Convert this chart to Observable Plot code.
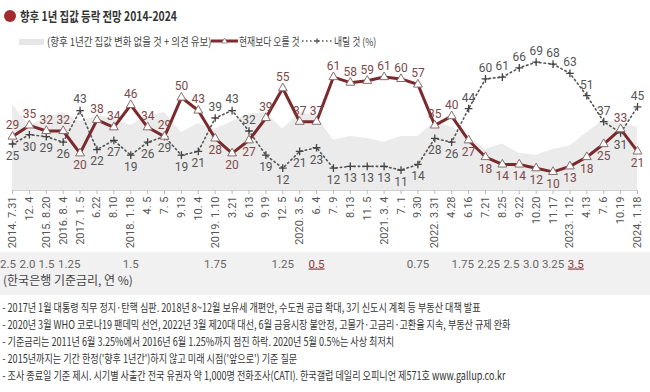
<!DOCTYPE html>
<html><head><meta charset="utf-8">
<script src="https://cdn.jsdelivr.net/npm/d3@7"></script>
<script src="https://cdn.jsdelivr.net/npm/@observablehq/plot@0.6"></script>
<style>
body{margin:0;background:#fff;font-family:"Noto Sans CJK KR","Noto Sans",sans-serif;width:650px;height:392px;overflow:hidden;color:#333;}
#title{height:28px;position:relative;}
#title .bullet{position:absolute;left:4px;top:10px;width:12px;height:12px;border-radius:50%;background:#a32a2e;}
#title .t{position:absolute;left:20px;top:6px;font-size:13px;font-weight:600;color:#333;line-height:20px;white-space:nowrap;transform:scaleX(0.8);transform-origin:left center;}
#legend{height:22px;position:relative;font-size:11px;color:#444;}
#legend .it{position:absolute;top:5px;line-height:16px;white-space:nowrap;transform:scaleX(0.86);transform-origin:left center;}
#legend svg{position:absolute;top:8px;}
#chart{height:245px;}
#notes{padding:4px 0 0 3px;font-size:11.5px;line-height:17px;color:#333;white-space:nowrap;transform:scaleX(0.79);transform-origin:left top;}
.ratehl text{text-decoration:underline;}
</style></head><body>
<div id="title"><span class="bullet"></span><span class="t">향후 1년 집값 등락 전망 2014-2024</span></div>
<div id="legend">
  <span style="position:absolute;left:19px;top:11px;width:25px;height:6px;background:#e6e6e6;"></span>
  <span class="it" style="left:47px;">(향후 1년간 집값 변화 없을 것 + 의견 유보)</span>
  <svg style="left:211px" width="27" height="10"><line x1="0" y1="5" x2="27" y2="5" stroke="#7d2b2e" stroke-width="3"/><path d="M13.5,2 L16.5,7 L10.5,7 Z" fill="#fff" stroke="#8c6b6b" stroke-width="0.8"/></svg>
  <span class="it" style="left:239px;transform:scaleX(0.8);">현재보다 오를 것</span>
  <svg style="left:302px" width="30" height="10"><line x1="0" y1="5" x2="30" y2="5" stroke="#555" stroke-width="1.5" stroke-dasharray="1.5 2.5"/><path d="M15,2.5 V7.5 M12.5,5 H17.5" stroke="#444" stroke-width="1.2"/></svg>
  <span class="it" style="left:334px;transform:scaleX(0.8);">내릴 것 (%)</span>
</div>
<div id="chart"></div>
<div id="notes">
<div>- 2017년 1월 대통령 직무 정지·탄핵 심판. 2018년 8~12월 보유세 개편안, 수도권 공급 확대, 3기 신도시 계획 등 부동산 대책 발표</div>
<div>- 2020년 3월 WHO 코로나19 팬데믹 선언, 2022년 3월 제20대 대선, 6월 금융시장 불안정, 고물가·고금리·고환율 지속, 부동산 규제 완화</div>
<div>- 기준금리는 2011년 6월 3.25%에서 2016년 6월 1.25%까지 점진 하락. 2020년 5월 0.5%는 사상 최저치</div>
<div>- 2015년까지는 기간 한정('향후 1년간')하지 않고 미래 시점('앞으로') 기준 질문</div>
<div>- 조사 종료일 기준 제시. 시기별 사출간 전국 유권자 약 1,000명 전화조사(CATI). 한국갤럽 데일리 오피니언 제571호 www.gallup.co.kr</div>
</div>
<script>
const dates = ["2014. 7.31","12. 4","2015. 8.20","2016. 8. 4","2017. 1. 5","6.22","8.10","2018. 1.18","4. 5","7. 5","9.13","10. 4","2019. 1.10","3.21","6.13","9.19","12. 5","2020. 3. 5","6. 4","7. 9","8.13","11. 5","2021. 3. 4","7. 1","9.30","2022. 3.31","4.28","6.16","7.21","8.25","9.22","10.20","11.17","2023. 1.12","4.13","7. 6","10.19","2024. 1.18"];
const up = [29,35,32,32,20,38,34,46,34,29,50,43,28,20,27,39,55,37,37,61,58,59,61,60,57,35,40,27,18,14,14,12,10,13,18,25,33,21];
const down = [25,30,29,26,43,22,27,19,26,29,19,21,39,43,32,19,12,21,23,12,13,13,13,11,14,28,26,44,60,61,66,69,68,63,51,37,31,45];
const rateDates = ["2014. 7.31","12. 4","2015. 8.20","2016. 8. 4","2018. 1.18","2019. 1.10","12. 5","6. 4","9.30","6.16","7.21","8.25","10.20","11.17","2023. 1.12"];
const rateValues = ["2.5","2.0","1.5","1.25","1.5","1.75","1.25","0.5","0.75","1.75","2.25","2.5","3.0","3.25","3.5"];
const rateHighlight = [0,0,0,0,0,0,0,1,0,0,0,0,0,0,1];

const rows = dates.map((date, i) => ({date, up: up[i], down: down[i], rest: 100 - up[i] - down[i]}));
const rates = rateDates.map((date, i) => ({date, value: rateValues[i], hl: rateHighlight[i]}));

const upAbove = rows.filter(d => d.up >= d.down);
const upBelow = rows.filter(d => d.up < d.down);
const downAbove = rows.filter(d => d.down > d.up);
const downBelow = rows.filter(d => d.down <= d.up);

const font = {fontSize: 12, fontFamily: "Roboto"};

const chart = Plot.plot({
  width: 650, height: 245,
  marginTop: 0, marginLeft: 12, marginRight: 13, marginBottom: 105,
  style: {fontFamily: "Roboto", background: "transparent", overflow: "visible"},
  x: {type: "point", domain: dates, padding: 0, label: null},
  y: {domain: [0, 75.3], axis: null},
  marks: [
    Plot.areaY(rows, {x: "date", y: "rest", fill: "#ebebeb"}),
    Plot.ruleY([0], {stroke: "#d0d0d0"}),
    Plot.axisX({tickRotate: -90, tickSize: 4, tickPadding: 2, fontSize: 11, stroke: "#bbb", fill: "#555", label: null}),
    Plot.lineY(rows, {x: "date", y: "down", stroke: "#555", strokeWidth: 1.6, strokeDasharray: "1.5 3"}),
    Plot.lineY(rows, {x: "date", y: "up", stroke: "#7a2a2c", strokeWidth: 3}),
    Plot.dot(rows, {x: "date", y: "down", symbol: "plus", r: 2.6, stroke: "#444", strokeWidth: 1.3}),
    Plot.dot(rows, {x: "date", y: "up", symbol: "triangle", r: 3.3, fill: "#fff", stroke: "#8c6b6b", strokeWidth: 1}),
    Plot.text(upAbove, {x: "date", y: "up", text: "up", dy: -11, fill: "#7d4a4a", ...font}),
    Plot.text(upBelow, {x: "date", y: "up", text: "up", dy: 12, fill: "#7d4a4a", ...font}),
    Plot.text(downAbove, {x: "date", y: "down", text: "down", dy: -11, fill: "#555", ...font}),
    Plot.text(downBelow, {x: "date", y: "down", text: "down", dy: 12, fill: "#555", ...font}),
    Plot.text(rates.filter(d => !d.hl), {x: "date", text: "value", frameAnchor: "bottom", dy: 77, fill: "#666", fontSize: 11.5, className: "rate"}),
    Plot.text(rates.filter(d => d.hl), {x: "date", text: "value", frameAnchor: "bottom", dy: 77, fill: "#8b3a3a", fontSize: 11.5, className: "ratehl"})
  ]
});
document.getElementById("chart").appendChild(chart);
const svg = d3.select(chart);
svg.insert("rect", ":first-child").attr("x", 0).attr("y", 202).attr("width", 650).attr("height", 43).attr("fill", "#f1f1f1");
svg.append("text").attr("x", 3).attr("y", 232).attr("dominant-baseline", "middle").attr("text-anchor", "start")
  .attr("font-family", "Noto Sans CJK KR").attr("font-size", 12).attr("fill", "#444").text("(한국은행 기준금리, 연 %)");

// spread the policy-rate labels apart so they do not collide
const nodes = svg.selectAll(".rate text, .ratehl text").nodes()
  .map(n => {
    const b = n.getBoundingClientRect();
    return {n, left: b.left, width: b.width, s: 0};
  })
  .sort((a, b) => a.left - b.left);
const gap = 3;
let cluster = [];
const flush = () => {
  if (cluster.length > 1) {
    const push = cluster[cluster.length - 1].s;
    const back = Math.min(push / 2, cluster[0].left);
    cluster.forEach(c => c.s -= back);
  }
  cluster = [];
};
let prevRight = -Infinity;
nodes.forEach(c => {
  if (c.left < prevRight + gap) {
    c.s = prevRight + gap - c.left;
  } else {
    flush();
  }
  cluster.push(c);
  prevRight = c.left + c.s + c.width;
});
flush();
nodes.forEach(c => {
  if (c.s) {
    const t = c.n.getAttribute("transform") || "";
    c.n.setAttribute("transform", `translate(${c.s},0) ${t}`);
  }
});
</script>
</body></html>
